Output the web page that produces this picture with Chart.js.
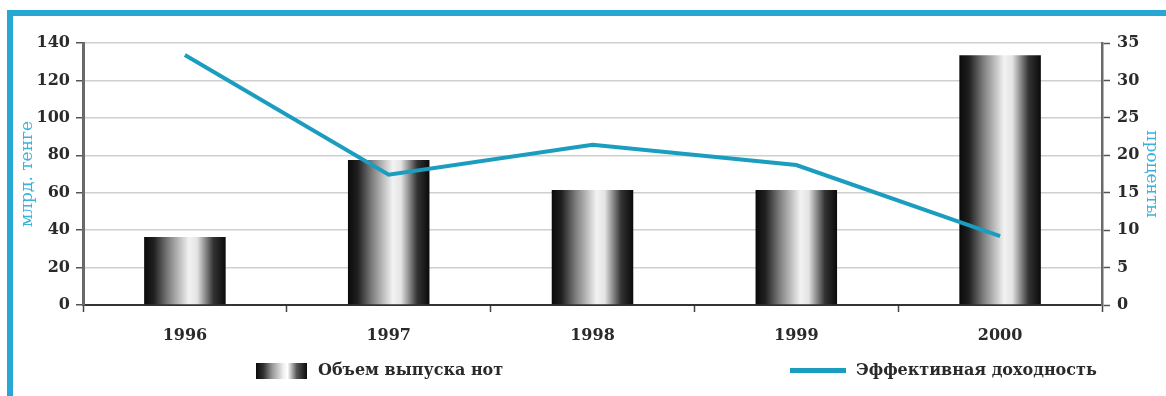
<!DOCTYPE html>
<html>
<head>
<meta charset="utf-8">
<title>Объем выпуска нот</title>
<script src="https://cdn.jsdelivr.net/npm/chart.js@4/dist/chart.umd.min.js"></script>
<style>
  body { margin: 0; background: #fff; }
  .wrap { position: relative; width: 1166px; height: 396px; overflow: hidden; }
  .frame {
    position: absolute; left: 7px; top: 10px; right: 0; bottom: 0;
    border-top: 6px solid #27a8d4; border-left: 6px solid #27a8d4;
  }
  #chart { position: absolute; left: 0; top: 0; }
  .legend-item {
    position: absolute; top: 360px; height: 20px;
    font: bold 16px "DejaVu Serif", serif; color: #2a2a2a; line-height: 20px;
    white-space: nowrap;
  }
  .legend-item .box {
    display: inline-block; vertical-align: middle; margin-right: 11px;
  }
  .box.bars {
    width: 51px; height: 16px;
    background: linear-gradient(90deg, #0a0a0a 0%, #333 15%, #999 32%, #f4f4f4 55%, #fff 62%, #555 80%, #0a0a0a 100%);
  }
  .box.line { width: 56px; height: 5px; background: #1b9dbf; margin-right: 10px; }
</style>
</head>
<body>
<div class="wrap">
  <div class="frame"></div>
  <canvas id="chart" width="1166" height="396"></canvas>
  <div class="legend-item" style="left:256px"><span class="box bars"></span>Объем выпуска нот</div>
  <div class="legend-item" style="left:790px"><span class="box line"></span>Эффективная доходность</div>
</div>

<script>
// years on the x axis
const years = ['1996', '1997', '1998', '1999', '2000'];
// issue volume, bln tenge (bars, left axis)
const issueVolume = [36.3, 77.5, 61.5, 61.5, 133.5];
// effective yield, percent (line, right axis)
const effectiveYield = [33.4, 17.4, 21.4, 18.7, 9.2];

const axisTitles = ['млрд. тенге', 'проценты'];
const seriesNames = ['Объем выпуска нот', 'Эффективная доходность'];

const BAR_SHARE = 0.4;
const cyan = '#1b9dbf';

Chart.defaults.font.family = '"DejaVu Serif", serif';
Chart.defaults.font.size = 16;
Chart.defaults.color = '#2a2a2a';

// metallic cylinder look: horizontal gradient across each bar
function barGradient(ctx) {
  const chart = ctx.chart;
  const area = chart.chartArea;
  if (!area || ctx.type !== 'data') return '#555';
  const x = chart.scales.x;
  const center = x.getPixelForValue(ctx.dataIndex);
  const half = (x.width / years.length) * BAR_SHARE / 2;
  const g = chart.ctx.createLinearGradient(center - half, 0, center + half, 0);
  g.addColorStop(0, '#0a0a0a');
  g.addColorStop(0.12, '#202020');
  g.addColorStop(0.3, '#808080');
  g.addColorStop(0.55, '#f2f2f2');
  g.addColorStop(0.65, '#e4e4e4');
  g.addColorStop(0.85, '#333');
  g.addColorStop(1, '#0a0a0a');
  return g;
}

const tickFont = { size: 16, weight: 'bold' };

new Chart(document.getElementById('chart'), {
  type: 'bar',
  data: {
    labels: years,
    datasets: [{
      type: 'line',
      label: seriesNames[1],
      data: effectiveYield,
      yAxisID: 'y1',
      borderColor: cyan,
      borderWidth: 4,
      pointRadius: 0,
      tension: 0,
      order: 0
    }, {
      label: seriesNames[0],
      data: issueVolume,
      yAxisID: 'y',
      backgroundColor: barGradient,
      categoryPercentage: 1,
      barPercentage: BAR_SHARE,
      order: 1
    }]
  },
  options: {
    responsive: false,
    animation: false,
    layout: { padding: { left: 0, right: 0, top: 43, bottom: 41 } },
    plugins: {
      legend: { display: false },
      tooltip: { enabled: false }
    },
    scales: {
      x: {
        afterFit: (s) => { s.height = 50; },
        grid: { offset: true, drawOnChartArea: false, tickLength: 7, tickColor: '#444', tickWidth: 1.5 },
        border: { color: '#333', width: 2 },
        ticks: { padding: 14, font: tickFont }
      },
      y: {
        position: 'left',
        min: 0,
        max: 140,
        afterFit: (s) => { s.width = 83; },
        ticks: { stepSize: 20, padding: 6, font: tickFont },
        grid: { color: '#cfcfcf', lineWidth: 1.5, tickLength: 7, tickColor: '#555', tickWidth: 1.5 },
        border: { color: '#6a6a6a', width: 3 },
        title: {
          display: true,
          text: axisTitles[0],
          color: '#3ab3dc',
          font: { size: 17 },
          padding: { top: 17, bottom: 0 }
        }
      },
      y1: {
        position: 'right',
        min: 0,
        max: 35,
        afterFit: (s) => { s.width = 64; },
        ticks: { stepSize: 5, padding: 7, font: tickFont },
        grid: { drawOnChartArea: false, tickLength: 8, tickColor: '#555', tickWidth: 1.5 },
        border: { color: '#6a6a6a', width: 2.5 },
        title: {
          display: true,
          text: axisTitles[1],
          color: '#3ab3dc',
          font: { size: 17 },
          padding: { top: 4, bottom: 0 }
        }
      }
    }
  }
});
</script>
</body>
</html>
